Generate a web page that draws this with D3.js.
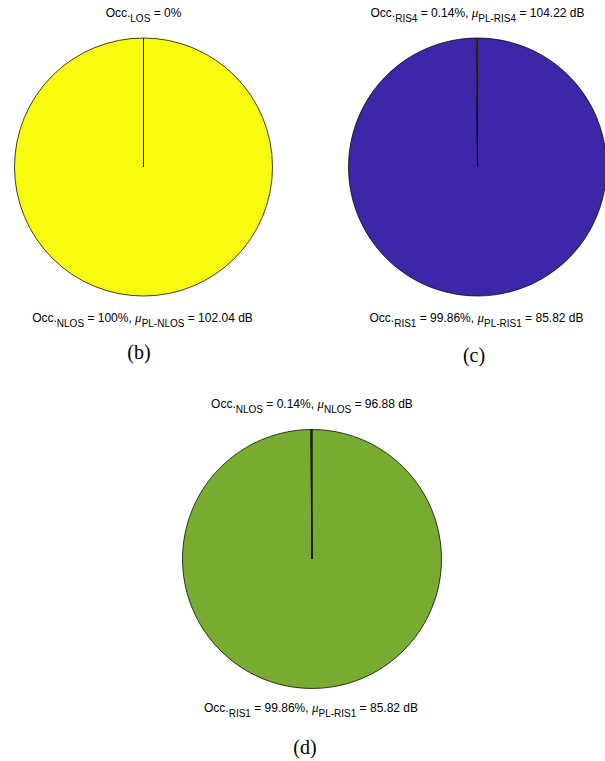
<!DOCTYPE html>
<html>
<head>
<meta charset="utf-8">
<script src="https://cdn.jsdelivr.net/npm/d3@7"></script>
<style>
  html, body { margin: 0; padding: 0; background: #fff; }
  svg { display: block; }
  .lbl { font-family: "Liberation Sans", Arial, sans-serif; font-size: 12px; fill: #000; }
  .panel { font-family: "Liberation Serif", "Times New Roman", serif; font-size: 20px; fill: #000; }
</style>
</head>
<body>
<svg id="fig" width="605" height="761"></svg>
<script>
// Occupancy shares (percent) per panel, first entry is the minor slice
const panelIds   = ["(b)", "(c)", "(d)"];
const sliceNames = [["LOS", "NLOS"], ["RIS4", "RIS1"], ["NLOS", "RIS1"]];
const occShares  = [[0, 100], [0.14, 99.86], [0.14, 99.86]];
// Mean path loss (dB) per slice; null where no mean is reported
const plMeans    = [[null, 102.04], [104.22, 85.82], [96.88, 85.82]];
// Prefix used for the mean-path-loss subscript
const plPrefix   = [["PL-", "PL-"], ["PL-", "PL-"], ["", "PL-"]];
const sliceColors = [["#f9fb0e", "#f9fb0e"], ["#f9fb0e", "#3e26a8"], ["#3b5a12", "#77ac30"]];

// Layout of each panel: pie centre, radius, label baselines
const layout = [
  { cx: 143.5, cy: 167, r: 129, topY: 17,  botY: 322, panelY: 359, panelX: 139 },
  { cx: 477.5, cy: 167, r: 129, topY: 17,  botY: 322, panelY: 362, panelX: 474 },
  { cx: 312,   cy: 559, r: 129.5, topY: 408, botY: 712, panelY: 754, panelX: 305 }
];

const svg = d3.select("#fig");

const pie = d3.pie().sort(null).value(d => d).startAngle(0).endAngle(-2 * Math.PI);

function fmt(v) {
  return (Math.round(v * 100) / 100).toString();
}

function labelParts(p, i) {
  const parts = [{ t: "Occ." }, { t: sliceNames[p][i], sub: true },
                 { t: " = " + fmt(occShares[p][i]) + "%" }];
  if (plMeans[p][i] !== null) {
    parts.push({ t: ", " });
    parts.push({ t: "\u03bc", it: true });
    parts.push({ t: plPrefix[p][i] + sliceNames[p][i], sub: true });
    parts.push({ t: " = " + plMeans[p][i].toFixed(2) + " dB" });
  }
  return parts;
}

function drawLabel(g, x, y, parts) {
  const text = g.append("text").attr("class", "lbl")
    .attr("x", x).attr("y", y).attr("text-anchor", "middle");
  let shifted = false;
  parts.forEach(pt => {
    const ts = text.append("tspan").text(pt.t);
    if (pt.sub) {
      ts.attr("dy", shifted ? 0 : 5).attr("font-size", 10);
      shifted = true;
    } else if (shifted) {
      ts.attr("dy", -5);
      shifted = false;
    }
    if (pt.it) ts.attr("font-style", "italic").attr("font-family", "Liberation Serif, serif").attr("font-size", 13);
  });
}

panelIds.forEach((id, p) => {
  const L = layout[p];
  const g = svg.append("g");
  const arc = d3.arc().innerRadius(0).outerRadius(L.r);
  const slices = pie(occShares[p]);

  // the major slice first so the minor wedge's edges sit on top
  const order = slices.map((s, i) => i).reverse();
  g.append("g").attr("transform", `translate(${L.cx},${L.cy})`)
    .selectAll("path")
    .data(order)
    .join("path")
    .attr("d", i => arc(slices[i]))
    .attr("fill", i => sliceColors[p][i])
    .attr("stroke", "#000")
    .attr("stroke-width", 0.75)
    .attr("stroke-linejoin", "round");

  drawLabel(g, L.cx, L.topY, labelParts(p, 0));
  drawLabel(g, L.cx - 1, L.botY, labelParts(p, 1));

  g.append("text").attr("class", "panel")
    .attr("x", L.panelX).attr("y", L.panelY)
    .attr("text-anchor", "middle")
    .text(id);
});
</script>
</body>
</html>
